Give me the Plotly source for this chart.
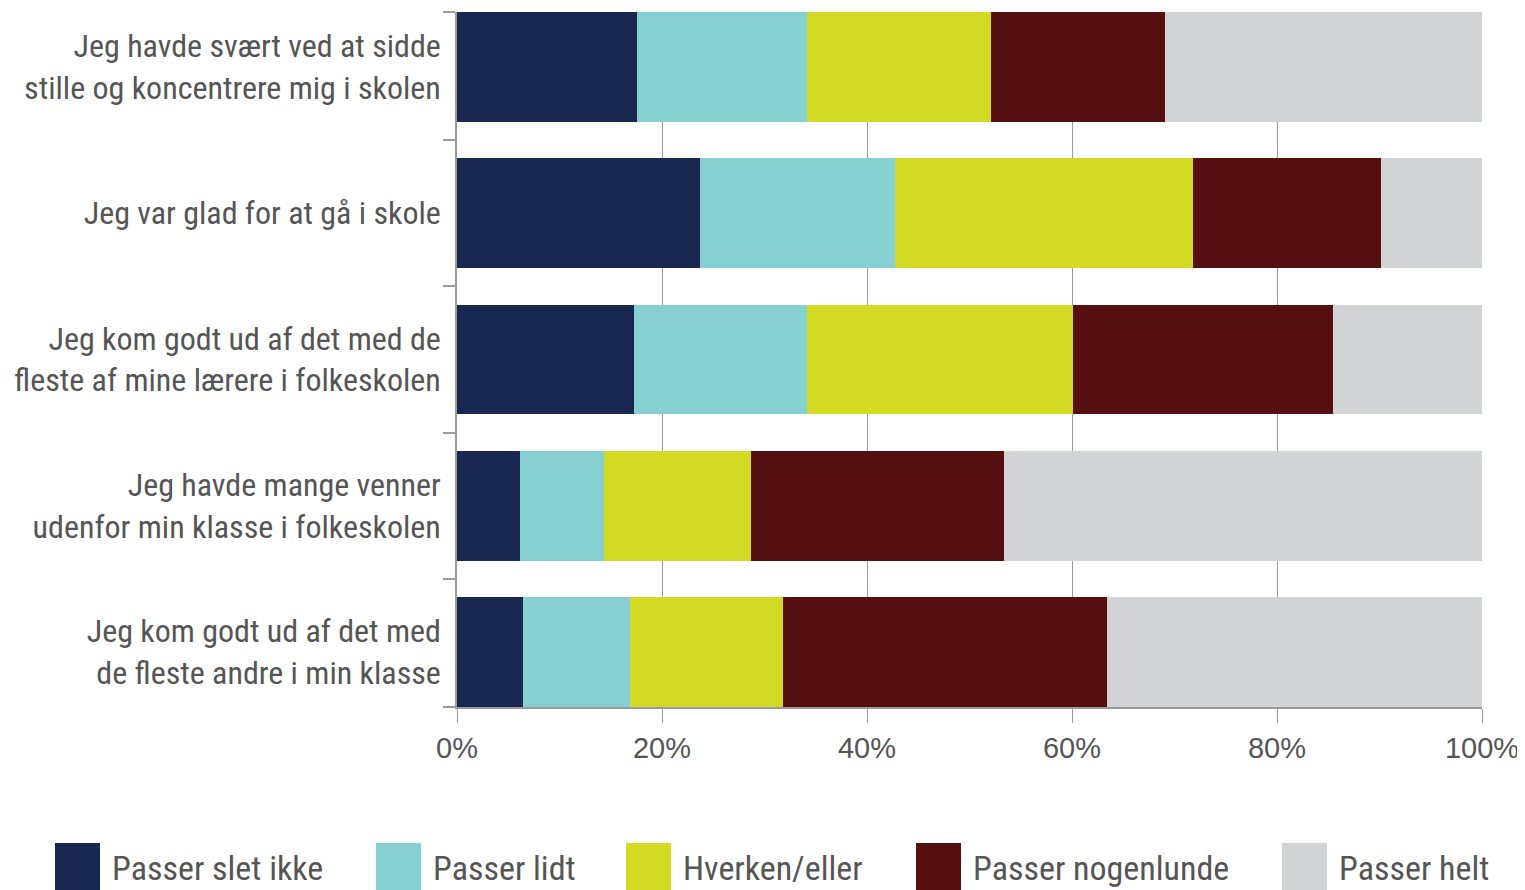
import plotly.graph_objects as go

categories = [
    "Jeg havde svært ved at sidde<br>stille og koncentrere mig i skolen",
    "Jeg var glad for at gå i skole",
    "Jeg kom godt ud af det med de<br>fleste af mine lærere i folkeskolen",
    "Jeg havde mange venner<br>udenfor min klasse i folkeskolen",
    "Jeg kom godt ud af det med<br>de fleste andre i min klasse",
]
series_names = ["Passer slet ikke", "Passer lidt", "Hverken/eller", "Passer nogenlunde", "Passer helt"]
passer_slet_ikke = [17.6, 23.7, 17.3, 6.1, 6.4]
passer_lidt = [16.5, 19.0, 16.8, 8.2, 10.5]
hverken_eller = [18.0, 29.1, 26.0, 14.4, 14.9]
passer_nogenlunde = [17.0, 18.3, 25.4, 24.7, 31.6]
passer_helt = [30.9, 9.9, 14.5, 46.6, 36.6]
series_values = [passer_slet_ikke, passer_lidt, hverken_eller, passer_nogenlunde, passer_helt]
colors = ["#182850", "#86d0d2", "#d3da24", "#550f10", "#d2d3d5"]
x_tickvals = [0, 20, 40, 60, 80, 100]
x_ticktext = ["0%", "20%", "40%", "60%", "80%", "100%"]

OFF = 8  # page body margin
W, H = 1525 - OFF, 890 - OFF
L, T = 457 - OFF, 12 - OFF
PR, PB = 1482 - OFF, 707 - OFF
R, B = W - PR, H - PB
pw, ph = PR - L, PB - T

label_font = "Liberation Sans Narrow, Roboto Condensed, Arial Narrow, sans-serif"
text_color = "#555555"

fig = go.Figure()
ypos = list(range(len(categories)))
for name, vals, col in zip(series_names, series_values, colors):
    fig.add_trace(go.Bar(
        y=ypos, x=vals, name=name, orientation="h",
        marker=dict(color=col, line=dict(width=0)),
        width=0.752, showlegend=False,
    ))

half = 0.376
fig.update_layout(
    width=W, height=H, autosize=False,
    margin=dict(l=L, r=R, t=T, b=B, pad=0, autoexpand=False),
    barmode="stack",
    plot_bgcolor="white", paper_bgcolor="white",
    xaxis=dict(
        range=[0, 100], tickvals=x_tickvals, ticktext=x_ticktext,
        showgrid=True, gridcolor="#9a9a9a", gridwidth=1,
        ticks="outside", ticklen=14, tickcolor="#9a9a9a",
        showline=True, linecolor="#9a9a9a", linewidth=1.5,
        zeroline=False, automargin=False, ticklabeloverflow="allow",
        tickfont=dict(family="Liberation Sans, Arial, sans-serif", size=29, color=text_color),
    ),
    yaxis=dict(
        range=[len(categories) - 1 + half, -half],
        tickvals=ypos, ticktext=categories,
        ticks="", showgrid=False, zeroline=False,
        showline=True, linecolor="#9a9a9a", linewidth=1.5,
        ticklabelstandoff=8, automargin=False, ticklabeloverflow="allow",
        minor=dict(tickvals=[-half, 0.5, 1.5, 2.5, 3.5, len(categories) - 1 + half],
                   ticks="outside", ticklen=12, tickcolor="#9a9a9a", tickwidth=1.5, showgrid=False),
        tickfont=dict(family=label_font, size=32, color=text_color),
    ),
)

# custom legend with large swatches (below plot)
leg_x = [55, 376, 626, 916, 1282]
sq_w, sq_top = 45, 843
for name, col, lx in zip(series_names, colors, leg_x):
    px0 = lx - OFF
    fig.add_shape(type="rect", xref="paper", yref="paper",
                  x0=(px0 - L) / pw, x1=(px0 + sq_w - L) / pw,
                  y0=(PB - (sq_top - OFF)) / ph, y1=(PB - (900 - OFF)) / ph,
                  fillcolor=col, line=dict(width=0), layer="above")
    fig.add_annotation(xref="paper", yref="paper",
                       x=(px0 + sq_w + 10 - L) / pw, y=(PB - (868 - OFF)) / ph,
                       text=name, showarrow=False, xanchor="left", yanchor="middle",
                       font=dict(family=label_font, size=34, color=text_color))

fig.write_html("out.html")
